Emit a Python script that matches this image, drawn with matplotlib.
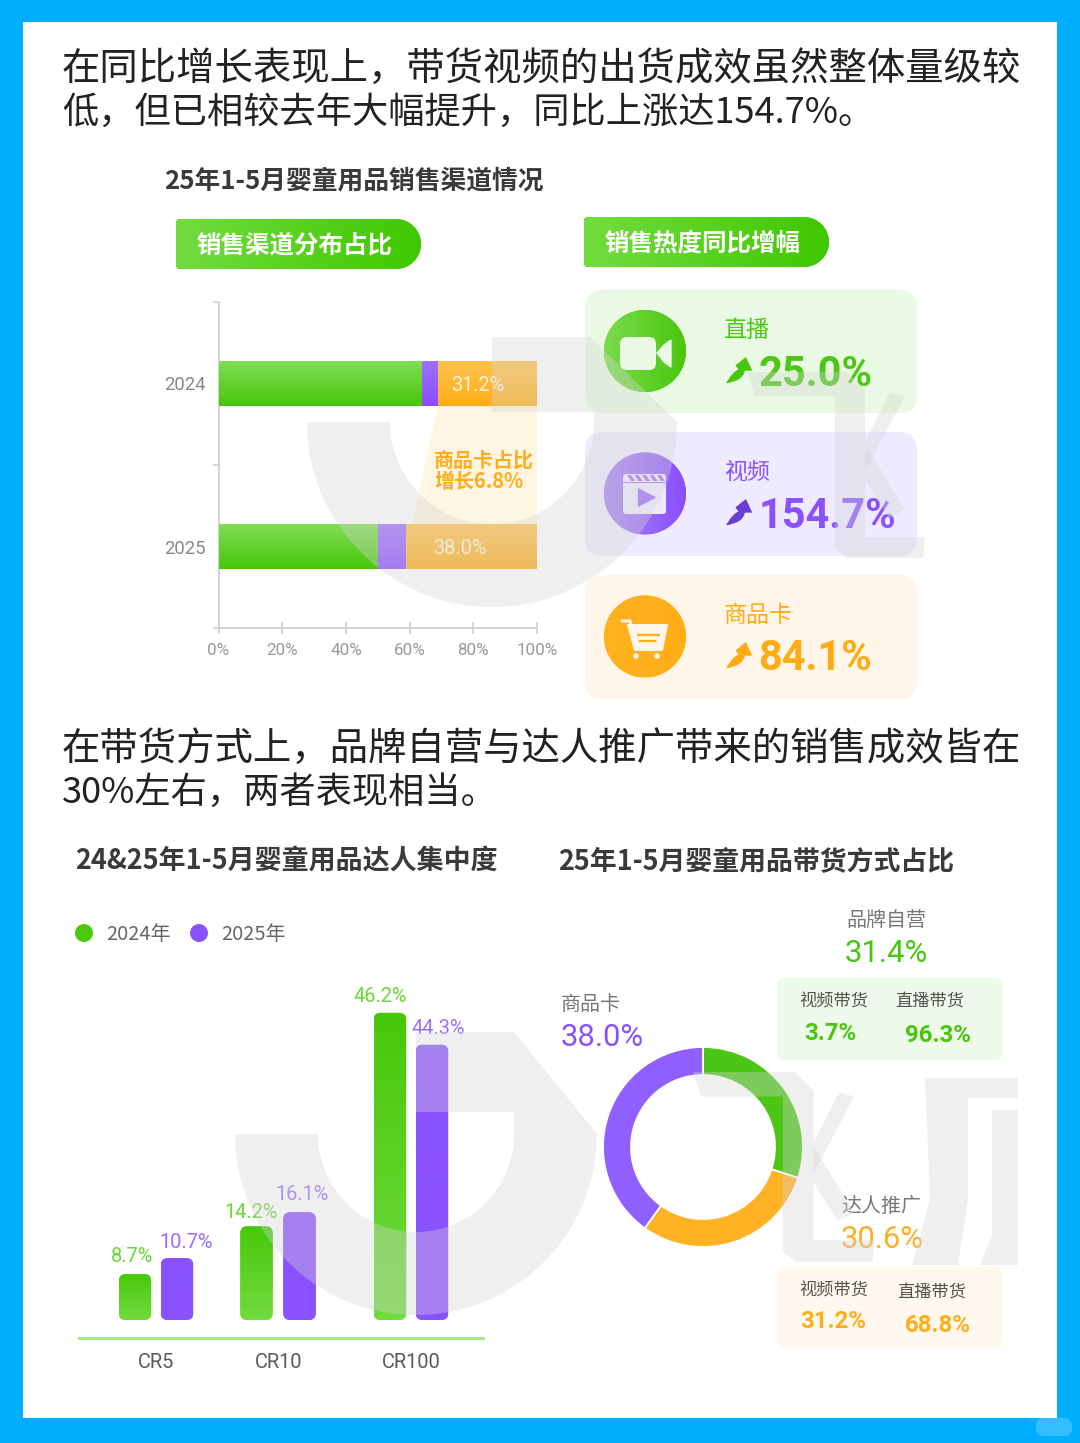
import numpy as np
import matplotlib
matplotlib.use("Agg")
import matplotlib.pyplot as plt
from matplotlib.patches import FancyBboxPatch, Circle, Polygon, PathPatch, Rectangle
from matplotlib.path import Path
from matplotlib.colors import to_rgb

CJK = ['Noto Sans CJK SC', 'DejaVu Sans']
NUM = ['Roboto', 'Noto Sans CJK SC']
plt.rcParams['font.family'] = CJK

# ---------- data ----------
years = ['2024', '2025']
share_zhibo = [64.0, 50.2]      # bar lengths as drawn
share_video = [5.0, 8.7]
share_card = [31.0, 41.1]
card_labels = ['31.2%', '38.0%']
x_tick_values = [0, 20, 40, 60, 80, 100]

growth_names = ['直播', '视频', '商品卡']
growth_values = ['25.0%', '154.7%', '84.1%']

cr_names = ['CR5', 'CR10', 'CR100']
cr_2024_drawn = [6.9, 14.1, 46.2]   # bar heights as drawn
cr_2025_drawn = [9.3, 16.2, 41.4]
cr_2024_labels = ['8.7%', '14.2%', '46.2%']
cr_2025_labels = ['10.7%', '16.1%', '44.3%']

donut_names = ['品牌自营', '达人推广', '商品卡']
donut_drawn = [30.0, 29.9, 40.1]    # arcs as drawn
donut_labels = ['31.4%', '30.6%', '38.0%']
self_run_split = ['3.7%', '96.3%']
influencer_split = ['31.2%', '68.8%']

# ---------- colours ----------
BLUE = '#00AEFF'
GREEN = '#4BC90C'
PURPLE = '#8A52FF'
ORANGE = '#FFAE1A'

W, H = 1080, 1443
fig = plt.figure(figsize=(W / 100, H / 100), dpi=100, facecolor=BLUE)


def px_axes(z):
    a = fig.add_axes([0, 0, 1, 1], zorder=z)
    a.set_xlim(0, W)
    a.set_ylim(H, 0)
    a.axis('off')
    a.patch.set_alpha(0)
    a.autoscale(False)
    return a


def box_axes(l, t, r, b, z=5):
    return fig.add_axes([l / W, 1 - b / H, (r - l) / W, (b - t) / H], zorder=z, facecolor='none')


bg = px_axes(0)
fg = px_axes(10)
wm = px_axes(20)


def T(x, y, s, px, color='#333333', ha='left', weight='normal', family=CJK, ax=None):
    return (ax or fg).text(x, y + 2, s, fontsize=px * 0.72, color=color, ha=ha, va='center',
                           fontweight=weight, family=family)


def rbox(ax, l, t, r, b, rad, color, z=1, **kw):
    p = FancyBboxPatch((l + rad, t + rad), r - l - 2 * rad, b - t - 2 * rad,
                       boxstyle=f'round,pad={rad},rounding_size={rad}',
                       fc=color, ec='none', zorder=z, **kw)
    ax.add_patch(p)
    return p


def gradient(ax, x0, x1, y_vis_top, y_vis_bottom, c1, c2, clip, horizontal=False, z=3):
    n = 64
    t = np.linspace(0, 1, n)
    a, b = np.array(to_rgb(c1)), np.array(to_rgb(c2))
    g = a[None, :] * (1 - t)[:, None] + b[None, :] * t[:, None]
    img = g[None, :, :] if horizontal else g[:, None, :]
    im = ax.imshow(img, extent=(x0, x1, y_vis_bottom, y_vis_top), origin='upper',
                   aspect='auto', zorder=z, interpolation='bilinear')
    im.set_clip_path(clip)
    return im


# ---------- card ----------
bg.add_patch(Rectangle((23, 22), 1034, 1396, fc='white', ec='none', zorder=0))
rbox(bg, 1036, 1418, 1072, 1436, 8, '#35BEFF', z=0.5)

# ---------- headlines ----------
T(62, 67, '在同比增长表现上，带货视频的出货成效虽然整体量级较', 38.4, '#222222')
T(62, 111, '低，但已相较去年大幅提升，同比上涨达154.7%。', 36.2, '#222222')
T(62, 747, '在带货方式上，品牌自营与达人推广带来的销售成效皆在', 38.4, '#222222')
T(62, 791, '30%左右，两者表现相当。', 36.2, '#222222')

T(164, 179, '25年1-5月婴童用品销售渠道情况', 25.8, '#3A3A3A', weight='bold')
T(75, 859, '24&25年1-5月婴童用品达人集中度', 27, '#3A3A3A', weight='bold')
T(558, 859, '25年1-5月婴童用品带货方式占比', 26.9, '#3A3A3A', weight='bold')


def pill(l, t, r, b, text):
    rl, rr = 4, (b - t) / 2
    k = 0.45
    v = [(l + rl, t), (r - rr, t), (r - rr * k, t), (r, t + rr * k), (r, t + rr),
         (r, b - rr * k), (r - rr * k, b), (r - rr, b), (l + rl, b), (l, b), (l, b - rl),
         (l, t + rl), (l, t), (l + rl, t)]
    c = [Path.MOVETO, Path.LINETO, Path.CURVE4, Path.CURVE4, Path.CURVE4, Path.CURVE4, Path.CURVE4,
         Path.CURVE4, Path.LINETO, Path.CURVE3, Path.CURVE3, Path.LINETO, Path.CURVE3, Path.CURVE3]
    p = PathPatch(Path(v, c), fc=GREEN, ec='none', zorder=1)
    bg.add_patch(p)
    gradient(bg, l, r, t, b, '#72DC3F', '#3FC800', p, horizontal=True, z=1.2)
    T(l + 21, (t + b) / 2 - 1, text, 24.5, 'white', weight='bold')


pill(176, 219, 421, 269, '销售渠道分布占比')
pill(584, 217, 829, 267, '销售热度同比增幅')

# connector band between the two orange segments
bg.add_patch(Polygon([(438, 406), (537, 406), (537, 524), (412, 524)], fc='#FFF5E3', ec='none', zorder=1))

# ---------- stacked bars ----------
ax = box_axes(218.5, 302, 537, 628)
ax.set_xlim(0, 100)
ax.set_ylim(1.5, -0.5)
ax.autoscale(False)
pos = np.arange(len(years))
left = np.zeros(len(years))
stack = [(share_zhibo, '#7EDD55', '#48C60A'), (share_video, '#A070FF', '#8A4DFF'), (share_card, '#FFC24F', '#FFAE17')]
for vals, c1, c2 in stack:
    bars = ax.barh(pos, vals, left=left, height=45 / 163, color=c2, zorder=2)
    for b in bars:
        gradient(ax, b.get_x(), b.get_x() + b.get_width(), b.get_y(), b.get_y() + b.get_height(), c1, c2, b)
    left = left + np.array(vals)
for i, s in enumerate(card_labels):
    ax.text(share_zhibo[i] + share_video[i] + (12.5 if i == 0 else 16.9), i + 0.015, s, color='#FFF3DC',
            fontsize=20 * 0.72, va='center', ha='center', family=NUM, zorder=4)
for s in ('top', 'right'):
    ax.spines[s].set_visible(False)
for s in ('left', 'bottom'):
    ax.spines[s].set_color('#CFCFCF')
    ax.spines[s].set_linewidth(1.3)
ax.set_xticks(x_tick_values)
ax.set_xticklabels([f'{v}%' for v in x_tick_values], family=NUM, fontsize=17 * 0.72, color='#999999')
ax.set_yticks(pos)
ax.set_yticklabels(years, family=NUM, fontsize=18.5 * 0.72, color='#888888')
ax.set_yticks([-0.5, 0.5, 1.5], minor=True)
ax.tick_params(axis='x', direction='inout', length=9, width=1.2, color='#CFCFCF', pad=6)
ax.tick_params(axis='y', which='major', length=0, pad=9)
ax.tick_params(axis='y', which='minor', length=4.5, width=1.2, color='#CFCFCF')
T(434, 458, '商品卡占比', 20, ORANGE, weight='bold')
T(434, 480, '增长6.8%', 20, ORANGE, weight='bold')

# ---------- growth cards ----------
cards = [(290, 413, '#E9F9E3', '#4CC814', '#7BDB4E', '#4AC70C', '#47C610'),
         (432, 556, '#EEEAFF', '#8A52FF', '#A888F0', '#8A4DFF', '#6A3FD0'),
         (575, 699, '#FFF5E8', '#FFAB14', '#FFB21F', '#FFAE17', '#FFAB14')]


def arrow(x, y, color):
    v = np.array([(0, 25), (7, 13), (12, 12), (9, 8), (19, 0), (25, 13), (18, 13), (16, 23), (0, 25)], float) * 1.05
    c = [Path.MOVETO, Path.CURVE3, Path.CURVE3, Path.LINETO, Path.LINETO, Path.LINETO, Path.LINETO,
         Path.CURVE3, Path.CURVE3]
    fg.add_patch(PathPatch(Path(v + (x, y), c), fc=color, ec='none', zorder=3))


for i, (t, b, bgc, col, c1, c2, acol) in enumerate(cards):
    rbox(bg, 585, t, 917, b, 18, bgc)
    cy = (t + b) / 2 - 0.5
    circ = Circle((645, cy), 41, fc=c2, ec='none', zorder=2)
    bg.add_patch(circ)
    gradient(bg, 604, 686, cy - 41, cy + 41, c1, c2, circ, horizontal=True, z=2.2)
    T(724, t + 38, growth_names[i], 23, col)
    T(758 if i != 1 else 759, t + 82, growth_values[i], 41.5, col, weight='bold', family=NUM)
    arrow(726, t + 67, acol)

# video icon
rbox(fg, 620, 337, 656, 370, 7, '#E9F9E3', z=3)
fg.add_patch(Polygon([(657, 353), (664, 345), (671, 340), (671, 367), (664, 362)], fc='#E9F9E3', ec='#E9F9E3', lw=1, zorder=3))
# clapper icon
rbox(fg, 623, 474, 666, 514, 3, '#EEEAFF', z=3)
for k in range(5):
    fg.add_patch(Polygon([(627 + 7.5 * k, 475), (631 + 7.5 * k, 475), (635 + 7.5 * k, 481), (631 + 7.5 * k, 481)],
                         fc='#A274FF', ec='none', zorder=4))
fg.add_patch(Rectangle((623, 481.5), 43, 1.2, fc='#A274FF', ec='none', zorder=4))
fg.add_patch(Polygon([(638.5, 489), (638.5, 506), (655, 497.5)], fc='#9A6BFF', ec='#9A6BFF', lw=1, joinstyle='round', zorder=4))
# cart icon
W_C = '#FFF5E8'
fg.add_patch(Polygon([(628, 625), (667, 625), (662, 650), (635, 650)], fc=W_C, ec=W_C, lw=1.5, joinstyle='round', zorder=3))
fg.plot([622, 630, 632], [621, 621, 628], color=W_C, lw=2.2, zorder=3, solid_capstyle='round')
fg.plot([638, 659], [634.5, 634.5], color='#FFAE17', lw=1.6, zorder=4)
fg.plot([640, 655], [641, 641], color='#FFAE17', lw=1.6, zorder=4)
for cx in (636, 657):
    fg.add_patch(Circle((cx, 656), 2.8, fc=W_C, ec='none', zorder=3))

# ---------- concentration bars ----------
ax2 = box_axes(78, 980, 485, 1340)
group_pos = np.array([0.0, 1.0, 2.09])
ax2.set_xlim(-78 / 122.0, (485 - 156) / 122.0)
ax2.set_ylim(-20 / 6.65, 340 / 6.65)
ax2.autoscale(False)
bar_w = 32.5 / 122
off = np.array([[-21, 21], [-21.5, 21.5], [-21, 21]]) / 122
for j, (vals, c1, c2) in enumerate([
        (cr_2024_drawn, '#48C80A', '#72DB3F'),
        (cr_2025_drawn, '#8A52FF', '#8A52FF')]):
    bars = ax2.bar(group_pos + off[:, j], vals, width=bar_w, color=c2, zorder=2)
    for i, b in enumerate(bars):
        x0, w, h = b.get_x(), b.get_width(), b.get_height()
        pad_x = 7 / 122
        rr = FancyBboxPatch((x0 + pad_x, pad_x * 122 / 6.65), w - 2 * pad_x, h - 2 * pad_x * 122 / 6.65,
                            boxstyle=f'round,pad={pad_x},rounding_size={pad_x}',
                            mutation_aspect=122 / 6.65, fc='none', ec='none', transform=ax2.transData)
        ax2.add_patch(rr)
        b.set_clip_path(rr)
        gradient(ax2, x0, x0 + w, h, 0, c1, c2, rr)
ax2.axhline(-18 / 6.65, color='#A9E88C', lw=2.2, zorder=1)
for s in ax2.spines.values():
    s.set_visible(False)
ax2.set_xticks([])
ax2.set_yticks([])
ax2.patch.set_alpha(0)
for x, s in zip((156, 279, 411), cr_names):
    T(x, 1361, s, 20, '#5A5A5A', ha='center', family=NUM)
lab_pos_24 = [(132, 1254), (251, 1211), (380, 995)]
lab_pos_25 = [(186, 1240), (302, 1193), (438, 1026)]
for (x, y), s in zip(lab_pos_24, cr_2024_labels):
    T(x, y, s, 20, '#6AD63A', ha='center', family=NUM)
for (x, y), s in zip(lab_pos_25, cr_2025_labels):
    T(x, y, s, 20, '#9B6EFF', ha='center', family=NUM)
# legend
fg.add_patch(Circle((84, 933), 9, fc=GREEN, ec='none'))
fg.add_patch(Circle((199, 933), 9, fc=PURPLE, ec='none'))
T(106, 933, '2024年', 20, '#666666')
T(221, 933, '2025年', 20, '#666666')

# ---------- donut ----------
ax3 = box_axes(603, 1047, 803, 1247)
ax3.pie(donut_drawn, colors=['#4CC615', '#FFB224', '#8F5FFF'], startangle=90, counterclock=False, radius=1,
        wedgeprops=dict(width=0.28, edgecolor='white', linewidth=1.3))
ax3.set_xlim(-1, 1)
ax3.set_ylim(-1, 1)

T(846, 918, donut_names[0], 20, '#777777')
T(845, 951, donut_labels[0], 31, '#48C60E', family=NUM)
T(841, 1204, donut_names[1], 20, '#777777')
T(841, 1237, donut_labels[1], 31, '#FFAE2A', family=NUM)
T(561, 1003, donut_names[2], 20, '#777777')
T(561, 1036, donut_labels[2], 31, '#8A52FF', family=NUM)

rbox(bg, 777, 978, 1003, 1060, 8, '#EFFBEA')
rbox(bg, 777, 1267, 1003, 1348, 8, '#FFF8EE')
T(799, 1000, '视频带货', 17.2, '#555555')
T(895, 999, '直播带货', 17.2, '#555555')
T(804, 1031, self_run_split[0], 24, '#48C60E', weight='bold', family=NUM)
T(905, 1034, self_run_split[1], 24, '#48C60E', weight='bold', family=NUM)
T(799, 1289, '视频带货', 17.2, '#555555')
T(897, 1290, '直播带货', 17.2, '#555555')
T(800, 1320, influencer_split[0], 24, ORANGE, weight='bold', family=NUM)
T(905, 1323, influencer_split[1], 24, ORANGE, weight='bold', family=NUM)


# ---------- watermark ----------
def logo(cx, cy, top, notch, r_out, r_in):
    a = np.radians(np.linspace(180, 0, 60))
    outer = np.c_[cx + r_out * np.cos(a), cy + r_out * np.sin(a)]
    inner = np.c_[cx + r_in * np.cos(a[::-1]), cy + r_in * np.sin(a[::-1])]
    pts = np.vstack([outer, [(cx + 98, top), (cx, top), (cx, notch), (cx + r_in, notch)], inner])
    return pts


WM = dict(fc=(213 / 255,) * 3, alpha=0.36, ec='none', zorder=5)
wm.add_patch(Polygon(logo(492, 422, 337, 412, 185, 102), **WM))
wm.add_patch(Polygon(logo(416, 1134, 1032, 1112, 181, 98), **WM))

for dx, dy, s in ((747, 372, 1.0), (693, 1072, 1.02)):
    body = [(0, 0), (100, 0), (118, 18), (118, 165), (178, 165), (176, 186), (100, 186), (88, 176),
            (88, 24), (8, 24)]
    wing1 = [(118, 70), (143, 20), (158, 24), (118, 100)]
    wing2 = [(118, 72), (158, 138), (142, 146), (118, 108)]
    for poly in (body, wing1, wing2):
        wm.add_patch(Polygon([(dx + s * x, dy + s * y) for x, y in poly], **WM))

# 瓜, cut by the layer edge
gua = [(925, 1078), (1018, 1078), (1018, 1098), (968, 1098), (968, 1200), (958, 1265), (912, 1265), (930, 1200)]
gua2 = [(992, 1110), (1018, 1110), (1018, 1265), (980, 1265), (992, 1235)]
wm.add_patch(Polygon(gua, **WM))
wm.add_patch(Polygon(gua2, **WM))

fig.savefig('out.png', dpi=100, facecolor=BLUE)
